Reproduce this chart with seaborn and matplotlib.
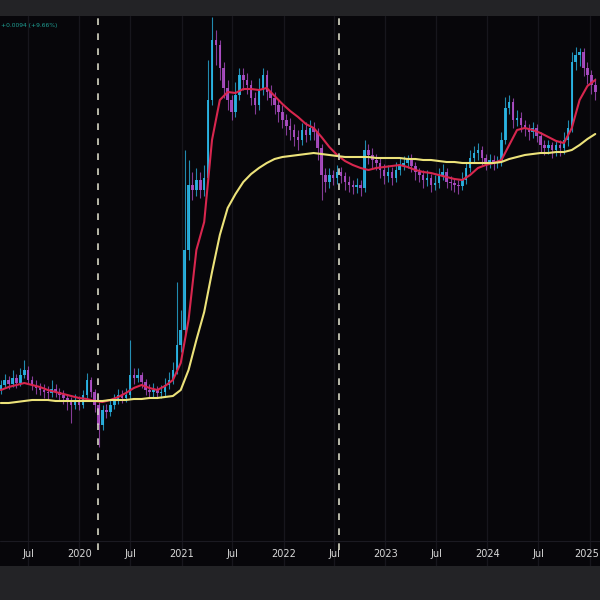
import numpy as np
import pandas as pd
import matplotlib
matplotlib.use("Agg")
import matplotlib.pyplot as plt
from matplotlib.transforms import ScaledTranslation
import seaborn as sns

# two-week candles (price in arbitrary units, no y scale shown)
start = "2019-03-26"
first_open = 170
closes = [175, 180, 176, 182, 177, 185, 190, 180, 175, 172,
          170, 168, 167, 171, 168, 165, 162, 158, 155, 160,
          155, 165, 180, 168, 155, 135, 150, 148, 155, 160,
          165, 162, 165, 185, 182, 185, 178, 170, 168, 170,
          167, 168, 175, 180, 190, 215, 230, 310, 375, 370,
          380, 370, 382, 460, 520, 515, 492, 472, 460, 448,
          465, 485, 480, 475, 462, 455, 470, 485, 468, 462,
          455, 448, 440, 434, 430, 423, 420, 430, 425, 432,
          428, 412, 385, 378, 385, 382, 388, 384, 378, 375,
          373, 375, 372, 410, 405, 400, 397, 390, 384, 388,
          382, 390, 395, 397, 402, 394, 388, 385, 380, 382,
          375, 377, 384, 388, 378, 377, 375, 374, 380, 392,
          402, 407, 410, 402, 398, 400, 397, 398, 420, 452,
          458, 440, 442, 435, 432, 428, 432, 424, 415, 412,
          415, 410, 415, 412, 420, 432, 498, 505, 508, 492,
          485, 475, 468]
highs = [180, 186, 184, 190, 186, 192, 200, 194, 184, 180,
         177, 176, 174, 180, 176, 172, 170, 166, 163, 166,
         164, 170, 187, 183, 171, 158, 155, 156, 160, 166,
         171, 170, 172, 220, 192, 192, 188, 181, 176, 177,
         174, 175, 182, 188, 198, 278, 250, 410, 400, 388,
         392, 388, 395, 500, 543, 530, 520, 498, 480, 465,
         478, 492, 492, 487, 480, 468, 482, 492, 490, 475,
         468, 460, 455, 446, 442, 436, 430, 437, 438, 440,
         438, 432, 416, 392, 392, 390, 395, 393, 388, 384,
         380, 382, 380, 420, 416, 412, 406, 402, 396, 395,
         393, 398, 402, 404, 405, 406, 398, 392, 390, 390,
         386, 385, 392, 396, 392, 384, 382, 380, 388, 398,
         410, 414, 417, 414, 406, 406, 405, 404, 428, 463,
         465, 462, 450, 448, 440, 436, 438, 436, 428, 420,
         420, 418, 420, 420, 428, 440, 508, 513, 512, 512,
         498, 490, 482]
lows = [166, 172, 171, 173, 172, 174, 182, 176, 170, 166,
        165, 162, 160, 163, 163, 160, 156, 150, 137, 151,
        150, 152, 162, 163, 148, 113, 130, 142, 144, 151,
        156, 157, 158, 161, 176, 178, 172, 165, 163, 163,
        162, 162, 164, 171, 176, 186, 208, 225, 300, 360,
        364, 362, 364, 378, 455, 495, 480, 462, 450, 440,
        443, 460, 470, 466, 455, 446, 450, 465, 460, 455,
        446, 438, 432, 425, 420, 414, 410, 415, 418, 420,
        420, 400, 360, 368, 372, 375, 376, 377, 370, 368,
        366, 367, 364, 368, 396, 392, 390, 382, 376, 378,
        375, 378, 385, 390, 392, 388, 380, 378, 372, 374,
        368, 370, 372, 380, 372, 370, 368, 366, 370, 376,
        388, 398, 400, 395, 390, 392, 390, 392, 394, 416,
        446, 432, 434, 428, 424, 420, 422, 418, 408, 405,
        406, 402, 404, 404, 406, 414, 428, 490, 494, 484,
        476, 466, 460]

# moving averages, read every 4 weeks
ma_red = [170, 173, 175, 177, 175, 173, 170, 168, 166, 164,
          162, 161, 159, 158, 160, 163, 167, 172, 175, 172,
          170, 174, 180, 197, 240, 310, 338, 420, 460, 468,
          467, 471, 471, 470, 472, 464, 456, 449, 443, 436,
          432, 423, 413, 405, 399, 395, 392, 390, 392, 393,
          394, 395, 393, 390, 388, 387, 385, 383, 381, 380,
          385, 392, 395, 397, 400, 415, 430, 432, 430, 427,
          423, 419, 417, 432, 460, 474, 480]
ma_yellow = [157, 157, 158, 159, 160, 160, 160, 159, 159, 159,
             159, 159, 159, 159, 160, 160, 160, 161, 161, 162,
             162, 163, 164, 170, 190, 220, 248, 288, 325, 352,
             366, 378, 386, 392, 397, 401, 403, 404, 405, 406,
             407, 406, 405, 404, 403, 403, 403, 403, 402, 402,
             402, 402, 401, 401, 400, 400, 399, 398, 398, 397,
             397, 397, 397, 397, 398, 401, 403, 405, 406, 407,
             407, 408, 408, 410, 415, 421, 426]

cycle_marks = ["2020-03-09", "2022-07-20"]
tick_dates = ["2019-07-01", "2020-01-01", "2020-07-01", "2021-01-01",
              "2021-07-01", "2022-01-01", "2022-07-01", "2023-01-01",
              "2023-07-01", "2024-01-01", "2024-07-01", "2025-01-01"]
tick_labels = ["Jul", "2020", "Jul", "2021", "Jul", "2022",
               "Jul", "2023", "Jul", "2024", "Jul", "2025"]
change_text = "+0.0094 (+9.66%)"

UP = "#2bb8e8"
DOWN = "#b04fc8"

sns.set_theme(style="dark")
plt.rcParams["font.family"] = ["DejaVu Sans"]

dates = pd.date_range(start, periods=len(closes), freq="14D")
opens = [first_open] + closes[:-1]
df = pd.DataFrame({"date": dates, "open": opens, "close": closes,
                   "high": highs, "low": lows})
ma = pd.DataFrame({"date": dates[::2], "red": ma_red, "yellow": ma_yellow})

fig = plt.figure(figsize=(6, 6), dpi=100, facecolor="#232326")
ax = fig.add_axes([0, 34 / 600, 1, 550 / 600])
ax.set_facecolor("#07060a")

# grid
for d in tick_dates:
    ax.axvline(pd.Timestamp(d), color="#17161d", linewidth=0.9, zorder=0)
ax.axhline(19, color="#1b1a22", linewidth=0.8, zorder=0)

# candles
up = df["close"] >= df["open"]
colors = np.where(up, UP, DOWN)
ax.vlines(df["date"], df["low"], df["high"], colors=colors, linewidth=0.8,
          alpha=0.75, zorder=2)
body_low = df[["open", "close"]].min(axis=1)
body_h = (df["close"] - df["open"]).abs().clip(lower=1.5)
ax.bar(df["date"], body_h, bottom=body_low, width=9, color=colors,
       linewidth=0, alpha=0.9, zorder=3)

# moving averages
sns.lineplot(data=ma, x="date", y="red", color="#d8264e", linewidth=1.5,
             ax=ax, zorder=4)
sns.lineplot(data=ma, x="date", y="yellow", color="#ece27a", linewidth=1.5,
             ax=ax, zorder=4)

# cycle markers
for d in cycle_marks:
    ax.axvline(pd.Timestamp(d), ymin=0.03, color="#d6d6c4", linewidth=1.2,
               linestyle=(0, (4, 5)), zorder=5)

ax.set_xlim(pd.Timestamp("2019-03-23"), pd.Timestamp("2025-02-07"))
ax.set_ylim(-6, 544)
ax.set_xticks(pd.to_datetime(tick_dates))
ax.set_xticklabels(tick_labels)
ax.tick_params(axis="x", length=0, pad=-12, labelsize=7, colors="#d9d9d9")
# last label sits against the right edge like in the terminal view
last = ax.get_xticklabels()[-1]
last.set_horizontalalignment("right")
last.set_transform(last.get_transform()
                   + ScaledTranslation(9 / 100, 0, fig.dpi_scale_trans))
ax.set_yticks([])
ax.set_xlabel("")
ax.set_ylabel("")
for s in ax.spines.values():
    s.set_visible(False)

fig.text(0.002, 0.958, change_text, color="#1fa095", fontsize=4.3,
         ha="left", va="center")

fig.savefig("out.png", dpi=100, facecolor=fig.get_facecolor())
